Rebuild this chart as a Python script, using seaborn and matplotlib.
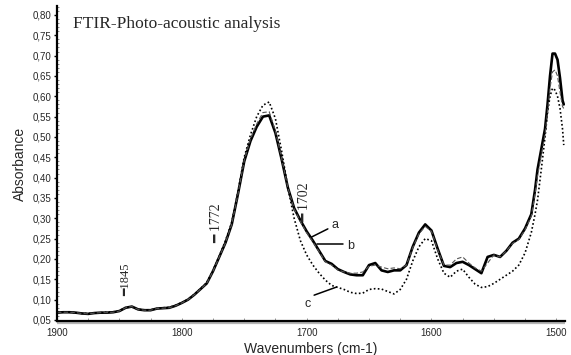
import numpy as np
import pandas as pd
import matplotlib
matplotlib.use("Agg")
import matplotlib.pyplot as plt
from matplotlib.ticker import MultipleLocator, FixedLocator, FixedFormatter
import seaborn as sns

# Wavenumber grid (cm-1), shared by the three spectra
wavenumber = [
    1900, 1895, 1890, 1885, 1880, 1875, 1870, 1865, 1860, 1855,
    1850, 1845, 1840, 1835, 1830, 1825, 1820, 1815, 1810, 1805,
    1800, 1795, 1790, 1785, 1780, 1775, 1770, 1765, 1760, 1755,
    1750, 1745, 1740, 1735, 1730, 1725, 1720, 1715, 1710, 1705,
    1700, 1695, 1690, 1685, 1680, 1675, 1670, 1665, 1660, 1655,
    1650, 1645, 1640, 1635, 1630, 1625, 1620, 1615, 1610, 1605,
    1600, 1595, 1590, 1585, 1580, 1575, 1570, 1565, 1560, 1555,
    1550, 1545, 1540, 1535, 1530, 1525, 1520, 1517, 1515, 1512,
    1509, 1507, 1505, 1503, 1501, 1499, 1497, 1495, 1494,
]

# Spectrum a (thick solid)
absorb_a = [
    0.068, 0.069, 0.069, 0.068, 0.066, 0.065, 0.067, 0.068, 0.068, 0.069,
    0.072, 0.080, 0.083, 0.076, 0.074, 0.074, 0.078, 0.079, 0.080, 0.085,
    0.092, 0.100, 0.112, 0.126, 0.140, 0.170, 0.205, 0.240, 0.285, 0.360,
    0.440, 0.490, 0.525, 0.550, 0.553, 0.510, 0.445, 0.375, 0.325, 0.295,
    0.268, 0.245, 0.220, 0.195, 0.188, 0.175, 0.168, 0.162, 0.160, 0.160,
    0.185, 0.190, 0.172, 0.168, 0.172, 0.172, 0.185, 0.230, 0.265, 0.285,
    0.270, 0.225, 0.183, 0.180, 0.190, 0.193, 0.185, 0.175, 0.165, 0.205,
    0.210, 0.205, 0.220, 0.240, 0.250, 0.275, 0.310, 0.370, 0.420, 0.470,
    0.520, 0.580, 0.650, 0.705, 0.705, 0.690, 0.645, 0.590, 0.580,
]

# Spectrum b (thin dashed)
absorb_b = [
    0.068, 0.069, 0.069, 0.068, 0.066, 0.065, 0.067, 0.068, 0.068, 0.069,
    0.072, 0.080, 0.083, 0.076, 0.074, 0.074, 0.078, 0.079, 0.080, 0.085,
    0.092, 0.100, 0.112, 0.126, 0.140, 0.170, 0.205, 0.240, 0.285, 0.360,
    0.442, 0.495, 0.532, 0.560, 0.562, 0.515, 0.447, 0.375, 0.323, 0.292,
    0.265, 0.242, 0.218, 0.193, 0.185, 0.173, 0.168, 0.165, 0.165, 0.168,
    0.182, 0.185, 0.180, 0.176, 0.178, 0.176, 0.185, 0.228, 0.262, 0.280,
    0.268, 0.222, 0.185, 0.185, 0.200, 0.205, 0.190, 0.178, 0.170, 0.190,
    0.210, 0.205, 0.220, 0.238, 0.248, 0.272, 0.305, 0.360, 0.405, 0.455,
    0.505, 0.560, 0.620, 0.660, 0.665, 0.650, 0.610, 0.575, 0.570,
]

# Spectrum c (dotted)
absorb_c = [
    0.069, 0.070, 0.069, 0.068, 0.066, 0.066, 0.067, 0.068, 0.069, 0.070,
    0.073, 0.081, 0.082, 0.076, 0.075, 0.075, 0.078, 0.080, 0.081, 0.086,
    0.093, 0.101, 0.113, 0.127, 0.142, 0.172, 0.207, 0.245, 0.290, 0.365,
    0.450, 0.505, 0.550, 0.578, 0.586, 0.545, 0.465, 0.375, 0.300, 0.245,
    0.210, 0.185, 0.165, 0.148, 0.135, 0.130, 0.125, 0.118, 0.115, 0.116,
    0.125, 0.127, 0.126, 0.120, 0.114, 0.125, 0.150, 0.195, 0.230, 0.250,
    0.245, 0.200, 0.165, 0.155, 0.170, 0.175, 0.155, 0.138, 0.130, 0.132,
    0.140, 0.150, 0.160, 0.170, 0.185, 0.215, 0.265, 0.310, 0.345, 0.420,
    0.500, 0.560, 0.600, 0.620, 0.615, 0.600, 0.570, 0.520, 0.480,
]

# Band positions marked on the spectrum and their label heights
band_positions = [1845, 1772, 1702]
band_label_y = [0.109, 0.239, 0.291]
band_label_size = [9, 10, 10]
band_label_text = ["1845", " 1772", " 1702"]

# Curve labels: (text position, leader end on the curve)
curve_names = ["a", "b", "c"]
curve_label_xy = [(1677, 0.284), (1665, 0.232), (1699, 0.089)]
curve_leader_from = [(1683, 0.274), (1671, 0.237), (1694, 0.111)]
curve_leader_to = [(1696, 0.254), (1692, 0.237), (1676, 0.131)]

y_ticks = [0.05, 0.10, 0.15, 0.20, 0.25, 0.30, 0.35, 0.40,
           0.45, 0.50, 0.55, 0.60, 0.65, 0.70, 0.75, 0.80]
y_tick_labels = ["0,05", "0,10", "0,15", "0,20", "0,25", "0,30", "0,35", "0,40",
                 "0,45", "0,50", "0,55", "0,60", "0,65", "0,70", "0,75", "0,80"]
x_ticks = [1900, 1800, 1700, 1600, 1500]
x_tick_labels = ["1900", "1800", "1700", "1600", "1500"]

df = pd.DataFrame({"wn": wavenumber, "a": absorb_a, "b": absorb_b, "c": absorb_c})

sns.set_style("white")
plt.rcParams["font.family"] = ["Liberation Sans", "DejaVu Sans"]

fig = plt.figure(figsize=(5.71, 3.55), dpi=100)
ax = fig.add_axes([0.0998, 0.0958, 0.8897, 0.8873])

sns.lineplot(data=df, x="wn", y="c", ax=ax, color="black", linewidth=1.2,
             linestyle=(0, (1, 1.4)), sort=False)
sns.lineplot(data=df, x="wn", y="a", ax=ax, color="black", linewidth=1.9,
             sort=False)
sns.lineplot(data=df, x="wn", y="b", ax=ax, color="#555555", linewidth=0.8,
             linestyle=(0, (4, 2)), sort=False)

ax.set_xlim(1900, 1493)
ax.set_ylim(0.0475, 0.822)

ax.yaxis.set_major_locator(FixedLocator(y_ticks))
ax.yaxis.set_major_formatter(FixedFormatter(y_tick_labels))
ax.yaxis.set_minor_locator(MultipleLocator(0.01))
ax.xaxis.set_major_locator(FixedLocator(x_ticks))
ax.xaxis.set_major_formatter(FixedFormatter(x_tick_labels))
ax.xaxis.set_minor_locator(MultipleLocator(25))

ax.tick_params(axis="y", which="major", direction="out", length=2, width=1,
               color="black", labelsize=7, pad=2, left=True)
ax.tick_params(axis="y", which="minor", direction="in", length=1.5, width=0.6,
               color="#777777", left=True)
ax.tick_params(axis="x", which="both", direction="in", length=2, width=0.6,
               color="#888888", labelsize=7, pad=5, bottom=True)

for side in ("top", "right"):
    ax.spines[side].set_visible(False)
ax.spines["left"].set_linewidth(1.6)
ax.spines["left"].set_color("black")
ax.spines["bottom"].set_linewidth(1.6)
ax.spines["bottom"].set_color("black")
# grey shadow band under the bottom axis line
ax.plot([0, 1], [-0.0075, -0.0075], transform=ax.transAxes, color="#b5b5b5",
        linewidth=1.6, clip_on=False, solid_capstyle="butt")

ax.set_xlabel("Wavenumbers (cm-1)", fontsize=10, labelpad=3)
ax.set_ylabel("Absorbance", fontsize=10, labelpad=4)

ax.text(0.031, 0.943, "FTIR-Photo-acoustic analysis", transform=ax.transAxes,
        fontsize=12.5, family=["Liberation Serif", "DejaVu Serif"],
        ha="left", va="center")

# band markers: a heavy bar followed by the wavenumber, written upwards
for pos, yb, size, txt in zip(band_positions, band_label_y, band_label_size,
                              band_label_text):
    ax.text(pos, yb, "\u2501" + txt, rotation=90, rotation_mode="anchor",
            ha="left", va="center", fontsize=size,
            family=["Liberation Serif", "DejaVu Sans"])

for name, lab, p0, p1 in zip(curve_names, curve_label_xy, curve_leader_from,
                             curve_leader_to):
    ax.plot([p0[0], p1[0]], [p0[1], p1[1]], color="black", linewidth=1.1)
    ax.text(lab[0], lab[1], name, fontsize=9, ha="center", va="center")

fig.savefig("out.png", dpi=100)
